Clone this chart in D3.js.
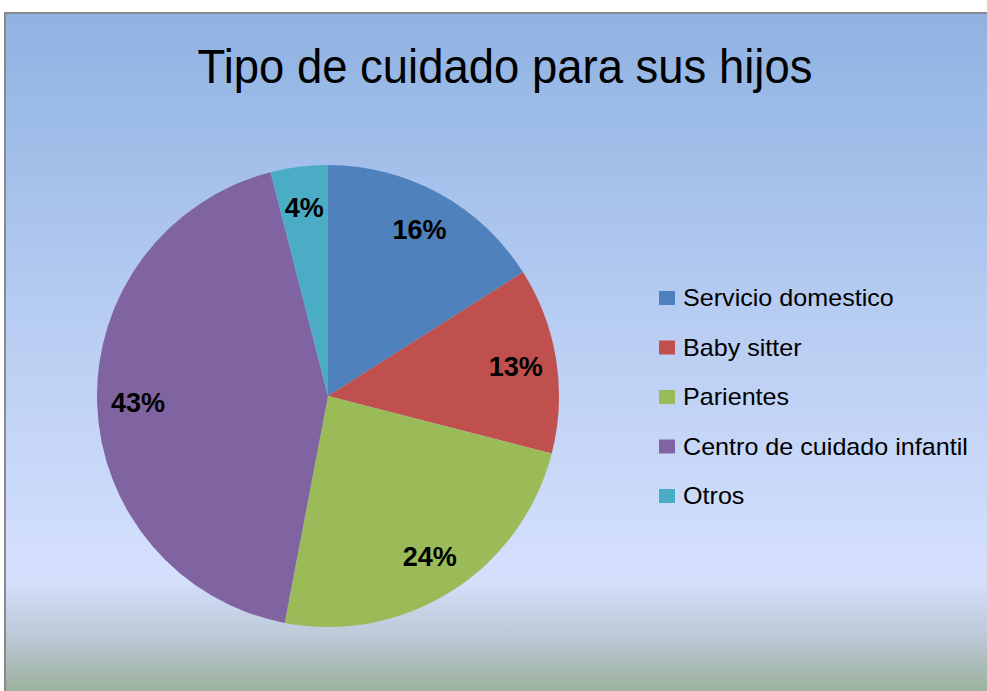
<!DOCTYPE html>
<html><head><meta charset="utf-8">
<script src="https://cdn.jsdelivr.net/npm/d3@7"></script>
<style>html,body{margin:0;padding:0;background:#fff;overflow:hidden}</style>
</head><body>
<svg id="chart" width="987" height="691"></svg>
<script>
const title = "Tipo de cuidado para sus hijos";
const categories = ["Servicio domestico", "Baby sitter", "Parientes", "Centro de cuidado infantil", "Otros"];
const values = [16, 13, 24, 43, 4];
const labels = ["16%", "13%", "24%", "43%", "4%"];
const colors = ["#4f81bd", "#c0504d", "#9bbb59", "#8064a2", "#4bacc6"];

const svg = d3.select("#chart");
const defs = svg.append("defs");
const grad = defs.append("linearGradient").attr("id","bg").attr("x1",0).attr("y1",0).attr("x2",0).attr("y2",1);
[[0,"#8fb2e2"],[0.45,"#b8cdf2"],[0.82,"#d5e0fd"],[0.9,"#bccad8"],[1,"#95ab92"]].forEach(([o,c])=>grad.append("stop").attr("offset",o).attr("stop-color",c));

svg.append("rect").attr("x",5).attr("y",13).attr("width",990).attr("height",690)
  .attr("fill","url(#bg)").attr("stroke","#8a8a8a").attr("stroke-width",2);

const font = "'Liberation Sans',Arial,sans-serif";
const tt = svg.append("text").attr("x",505).attr("y",83).attr("text-anchor","middle")
  .attr("font-family",font).attr("font-size",49).attr("fill","#000").text(title);
const tw = tt.node().getComputedTextLength();
tt.attr("transform",`translate(505,0) scale(${615/tw},1) translate(-505,0)`);

const cx = 328, cy = 396, R = 231;
const pie = d3.pie().sort(null).value(d=>d)(values);
const arc = d3.arc().innerRadius(0).outerRadius(R);
const labelArc = d3.arc().innerRadius(190).outerRadius(190);
const g = svg.append("g").attr("transform",`translate(${cx},${cy})`);
g.selectAll("path").data(pie).join("path").attr("d",arc).attr("fill",(d,i)=>colors[i]);
g.selectAll("text").data(pie).join("text")
  .attr("transform",d=>`translate(${labelArc.centroid(d)})`)
  .attr("text-anchor","middle").attr("dy","0.36em")
  .attr("font-family",font).attr("font-weight","bold")
  .attr("font-size",27).attr("fill","#000")
  .text((d,i)=>labels[i]);

const y = d3.scalePoint().domain(categories).range([298,496]);
const lg = svg.append("g");
categories.forEach((c,i)=>{
  lg.append("rect").attr("x",659).attr("y",y(c)-7).attr("width",16).attr("height",14).attr("fill",colors[i]);
});
const lt = svg.append("g");
categories.forEach((c,i)=>{
  lt.append("text").attr("x",0).attr("y",y(c)).attr("dy","0.36em")
    .attr("font-family",font).attr("font-size",23).attr("fill","#000").text(c);
});
const longest = d3.max(lt.selectAll("text").nodes(), n=>n.getComputedTextLength());
lt.attr("transform",`translate(683,0) scale(${285/longest},1)`);
</script>
</body></html>
